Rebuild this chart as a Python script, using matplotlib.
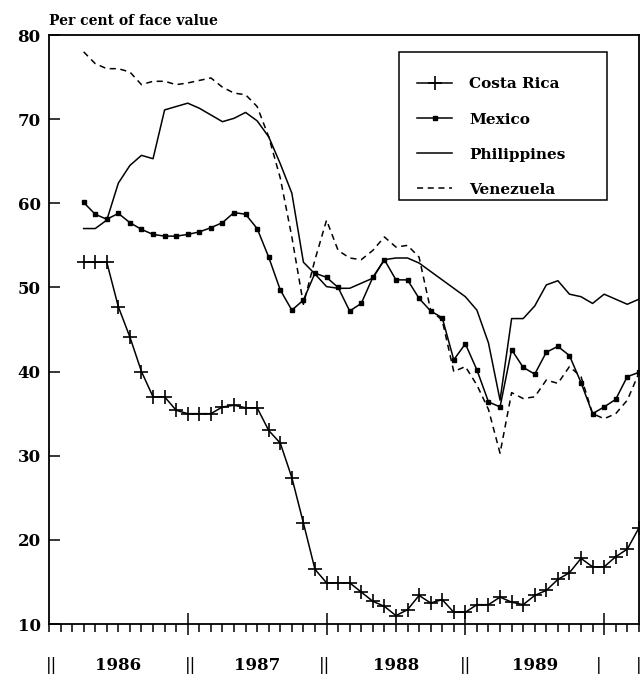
import matplotlib.pyplot as plt
from matplotlib.patches import Rectangle

# months counted from January 1986 (0 = Jan 1986)
months = list(range(3, 52))

costa_rica = [53.0, 53.0, 53.0, 47.7, 44.1, 40.0, 37.0, 37.0, 35.4, 35.0,
              35.0, 35.0, 35.8, 36.0, 35.7, 35.7, 33.0, 31.5, 27.4, 22.0,
              16.5, 14.9, 14.9, 14.9, 13.8, 12.7, 12.1, 11.0, 11.7, 13.4,
              12.5, 12.9, 11.4, 11.4, 12.3, 12.3, 13.2, 12.6, 12.3, 13.4,
              14.0, 15.3, 16.1, 17.8, 16.8, 16.8, 18.0, 18.9, 21.4]
mexico = [60.1, 58.7, 58.1, 58.8, 57.7, 56.9, 56.3, 56.1, 56.1, 56.3,
          56.6, 57.1, 57.7, 58.9, 58.7, 57.0, 53.6, 49.7, 47.3, 48.5,
          51.7, 51.2, 50.0, 47.2, 48.1, 51.2, 53.3, 50.9, 50.9, 48.7,
          47.2, 46.4, 41.4, 43.3, 40.2, 36.4, 35.8, 42.6, 40.5, 39.7,
          42.3, 43.0, 41.9, 38.7, 35.0, 35.8, 36.7, 39.4, 39.9]
philippines = [57.0, 57.0, 58.0, 62.4, 64.5, 65.7, 65.3, 71.1, 71.5, 71.9,
               71.3, 70.5, 69.7, 70.1, 70.8, 69.8, 67.9, 64.7, 61.2, 53.0,
               51.6, 50.1, 49.9, 49.9, 50.5, 51.1, 53.3, 53.5, 53.5, 52.9,
               51.9, 50.9, 49.9, 48.9, 47.3, 43.4, 36.6, 46.3, 46.3, 47.8,
               50.3, 50.8, 49.2, 48.9, 48.1, 49.2, 48.6, 48.0, 48.6]
venezuela = [78.0, 76.6, 76.0, 76.0, 75.6, 74.1, 74.5, 74.5, 74.1, 74.3,
             74.6, 74.9, 73.8, 73.1, 72.9, 71.5, 67.9, 63.0, 56.0, 48.0,
             53.3, 58.0, 54.4, 53.5, 53.3, 54.4, 56.0, 54.8, 55.0, 53.6,
             47.3, 46.1, 40.0, 40.6, 38.4, 35.5, 30.3, 37.5, 36.8, 37.0,
             39.0, 38.6, 40.6, 39.4, 35.0, 34.4, 35.0, 36.6, 39.8]

years = ["1986", "1987", "1988", "1989"]
year_centers = [6, 18, 30, 42]
bars = ["||", "||", "||", "||", "|", "|"]
bar_pos = [0.2, 12.2, 23.8, 36, 47.5, 51]

plt.rcParams['font.family'] = 'DejaVu Serif'
plt.rcParams['font.weight'] = 'bold'

fig = plt.figure(figsize=(6.44, 6.96), dpi=100)
ax = fig.add_axes([0.076, 0.1034, 0.916, 0.8463])

ax.plot(months, costa_rica, color='black', lw=1.1, marker='+', ms=10,
        mew=1.2, label='Costa Rica')
ax.plot(months, mexico, color='black', lw=1.1, marker='s', ms=3.2,
        label='Mexico')
ax.plot(months, philippines, color='black', lw=1.1, label='Philippines')
ax.plot(months, venezuela, color='black', lw=1.1, ls=(0, (4, 3)),
        label='Venezuela')

ax.set_xlim(0, 51)
ax.set_ylim(10, 80)
ax.set_yticks(range(10, 81, 10))
ax.tick_params(axis='y', direction='in', length=8, width=1.1, pad=6,
               labelsize=12)
ax.set_xticks([12, 24, 36, 48])
ax.set_xticklabels([])
ax.tick_params(axis='x', which='major', direction='inout', length=16, width=1.1)
ax.set_xticks(range(0, 52), minor=True)
ax.tick_params(axis='x', which='minor', direction='out', length=6, width=1.1)
for s in ax.spines.values():
    s.set_linewidth(1.3)

for y, c in zip(years, year_centers):
    ax.text(c, -0.07, y, transform=ax.get_xaxis_transform(), ha='center',
            va='center', fontsize=12)
for b, p in zip(bars, bar_pos):
    ax.text(p, -0.07, b, transform=ax.get_xaxis_transform(), ha='center',
            va='center', fontsize=12, fontweight='normal')

fig.text(0.076, 0.97, "Per cent of face value", ha='left', va='center',
         fontsize=10)

# legend box drawn separately, entries placed inside it
ax.add_patch(Rectangle((0.593, 0.72), 0.353, 0.251, transform=ax.transAxes,
                       fill=True, facecolor='white', edgecolor='black',
                       lw=1.1, zorder=4))
leg = ax.legend(loc='upper left', bbox_to_anchor=(0.624, 0.928),
                fontsize=11, labelspacing=1.38, handlelength=2.3,
                handletextpad=1.1, borderpad=0, borderaxespad=0,
                frameon=False)
leg.set_zorder(5)

fig.savefig("out.png", dpi=100)
